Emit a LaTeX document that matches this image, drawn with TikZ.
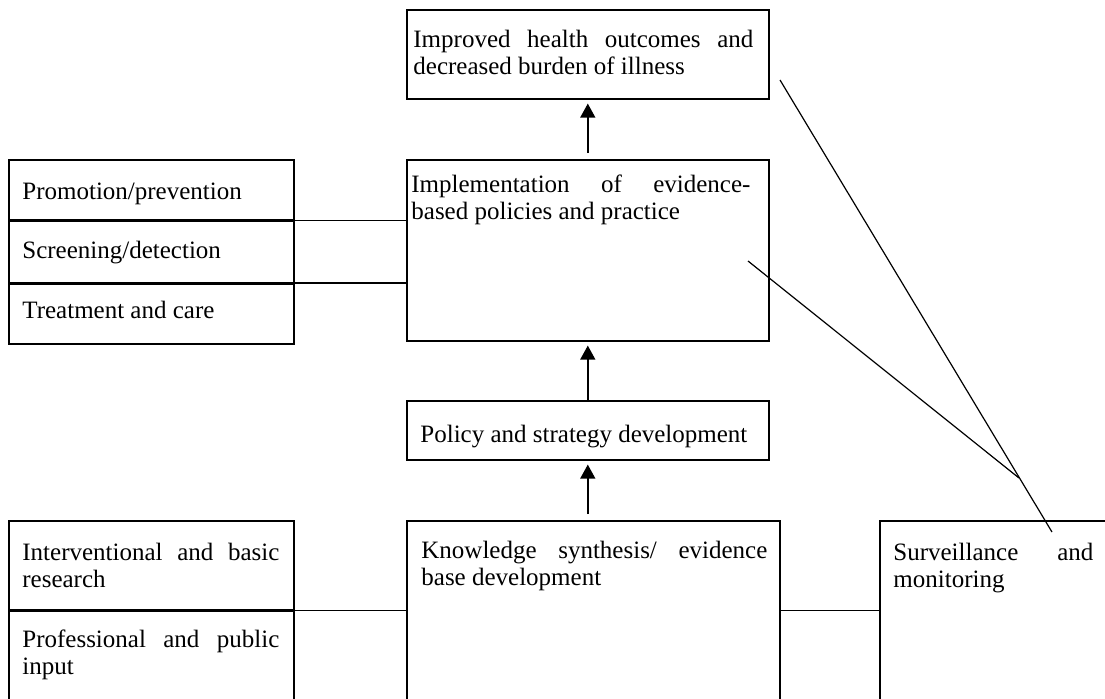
\documentclass[tikz,border=0pt]{standalone}
\usepackage{fontspec}
\setmainfont{Liberation Serif}
\usetikzlibrary{arrows.meta}
\hyphenpenalty=10000
\tolerance=10000
\hbadness=10000
\newcommand\boxfont{\fontsize{12.5}{13.7}\selectfont}

\begin{document}
\begin{tikzpicture}[x=0.5pt,y=-0.5pt,
  box/.style={draw,line width=0.8pt,inner sep=0pt,anchor=north west},
  txt/.style={inner sep=0pt,anchor=base west,font=\boxfont},
  jtxt/.style={txt,align=justify},
  link/.style={line width=0.8pt},
  up/.style={line width=0.7pt,-{Triangle[width=7.5pt,length=7pt]},shorten >=2pt}]
  \useasboundingbox (0,0) rectangle (1105,698);
  \clip (0,0) rectangle (1105,698);
  % centre column
  \node[box,minimum width=181pt,minimum height=44.5pt] (outc) at (406,9) {};
  \node[box,minimum width=181pt,minimum height=90.5pt] (impl) at (406,159) {};
  \node[box,minimum width=181pt,minimum height=29.5pt] (pol) at (406,400) {};
  \node[box,minimum width=186.5pt,minimum height=130pt] (know) at (406,520) {};
  % side boxes
  \node[box,minimum width=142.5pt,minimum height=30pt] (prom) at (8,159) {};
  \node[box,minimum width=142.5pt,minimum height=30.5pt] (scr) at (prom.south west) {};
  \node[box,minimum width=142.5pt,minimum height=30pt] (treat) at (scr.south west) {};
  \node[box,minimum width=142.5pt,minimum height=44.5pt] (res) at (8,520) {};
  \node[box,minimum width=142.5pt,minimum height=80pt] (inp) at (res.south west) {};
  \node[box,minimum width=170pt,minimum height=130pt] (surv) at (879,520) {};
  % texts
  \node[jtxt,text width=170pt] (outct) at (413,47) {Improved health outcomes and\linebreak decreased burden of illness};
  \node[jtxt,text width=169.5pt] (implt) at (411,192) {Implementation of evidence-\linebreak based policies and practice};
  \node[txt] (polt) at (420,442) {Policy and strategy development};
  \node[jtxt,text width=173pt] (knowt) at (421,558) {Knowledge synthesis/ evidence\linebreak base development};
  \node[txt] (promt) at (22,199) {Promotion/prevention};
  \node[txt] (scrt) at (22,258) {Screening/detection};
  \node[txt] (treatt) at (22,318) {Treatment and care};
  \node[jtxt,text width=128.5pt] (rest) at (22,560) {Interventional and basic\linebreak research};
  \node[jtxt,text width=128.5pt] (inpt) at (22,647) {Professional and public\linebreak input};
  \node[jtxt,text width=100pt] (survt) at (893,560) {Surveillance and\linebreak monitoring};
  % joins
  \draw[link] (prom.south east) -- (prom.south east -| impl.west);
  \draw[link] (scr.south east) -- (scr.south east -| impl.west);
  \draw[link] (res.south east) -- (res.south east -| know.west);
  \draw[link] (res.south east -| know.east) -- (res.south east -| surv.west);
  % arrows
  \draw[up,shorten <=3pt] (know.north -| pol.south) -- (pol.south);
  \draw[up] (pol.north) -- (impl.south);
  \draw[up,shorten <=3pt] (impl.north) -- (outc.south);
  % diagonals
  \coordinate (d1a) at (780,80);
  \coordinate (d1b) at (1052,532);
  \coordinate (d2a) at (748,261);
  \coordinate (d2b) at (1019,478);
  \draw[line width=0.6pt] (d1a) -- (d1b);
  \draw[line width=0.6pt] (d2a) -- (d2b);
\end{tikzpicture}
\end{document}
